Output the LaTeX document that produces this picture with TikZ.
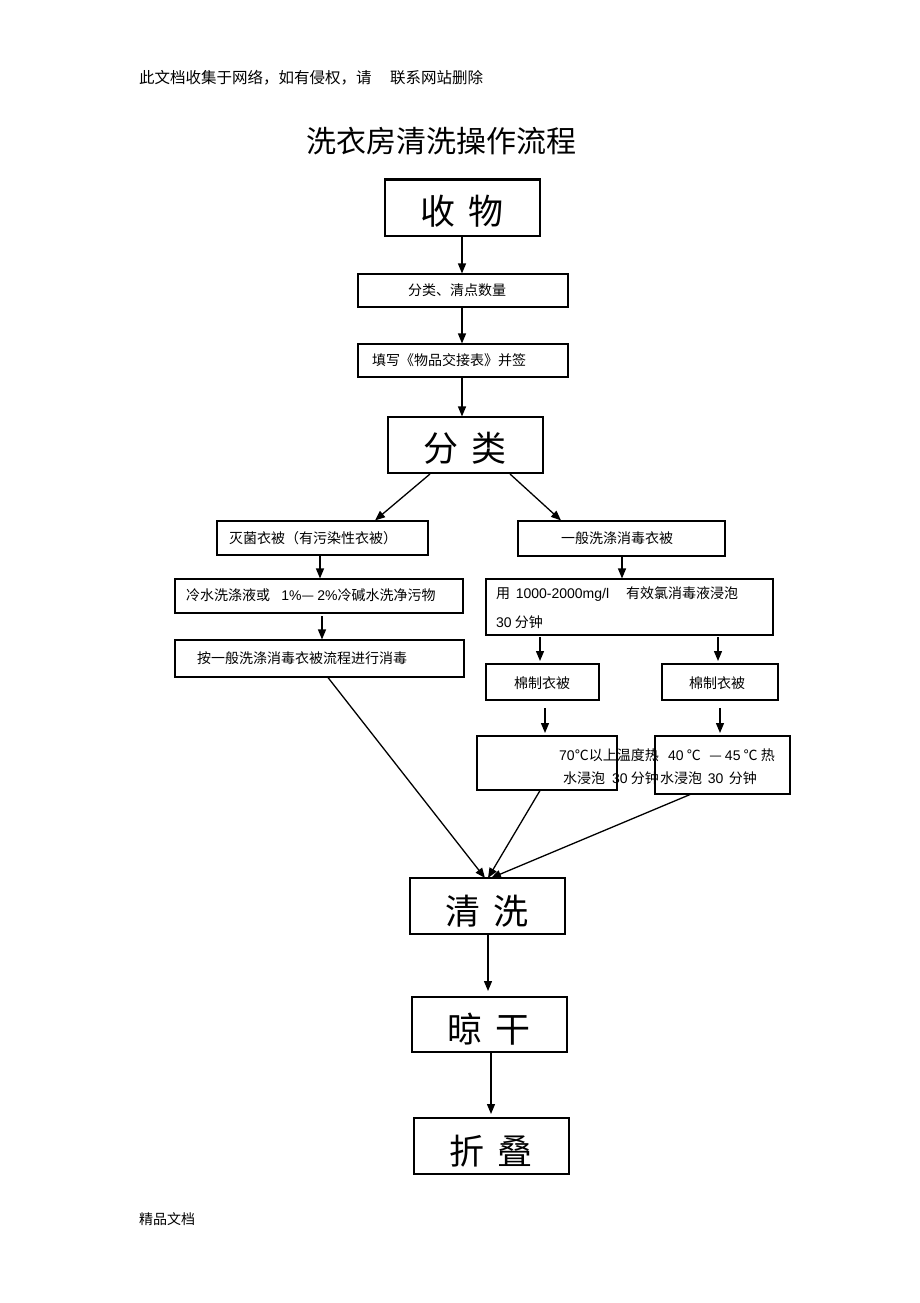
\documentclass[tikz,border=0pt]{standalone}
\usepackage{fontspec}
\setmainfont{Noto Sans CJK SC}
\newfontfamily\lat{Liberation Sans}
\usetikzlibrary{arrows.meta}
\begin{document}
\begin{tikzpicture}[x=1pt,y=-1pt,
  box/.style={draw=black,line width=1.1pt,inner sep=0pt,fill=none},
  txt/.style={inner sep=0pt,font=\fontsize{14}{15}\selectfont},
  txtw/.style={txt,anchor=west},
  big/.style={inner sep=0pt,font=\fontsize{35}{36}\selectfont},
  arr/.style={draw=black,line width=1.3pt,-{Triangle[length=10pt,width=8pt]}}]
\useasboundingbox[fill=white] (0,0) rectangle (920,1303);
% header / footer
\node[anchor=west,inner sep=0pt,font=\fontsize{15.5}{16}\selectfont] (hdr1) at (139,78) {此文档收集于网络，如有侵权，请};
\node[anchor=west,inner sep=0pt,font=\fontsize{15.5}{16}\selectfont] (hdr2) at (390,78) {联系网站删除};
\node[anchor=west,inner sep=0pt,font=\fontsize{30}{32}\selectfont] (title) at (306,141) {洗衣房清洗操作流程};
\node[anchor=west,inner sep=0pt,font=\fontsize{14}{15}\selectfont] (ftr) at (139,1219) {精品文档};
% boxes
\node[box,minimum width=155pt,minimum height=56pt] (shouwu) at (462.5,208) {};
\draw[line width=2pt] (shouwu.north west) -- (shouwu.north east);
\node[big] (shouwuT) at (462,211) {收\hspace{0.35em}物};
\node[box,minimum width=210pt,minimum height=33pt] (fenlei1) at (463,290.5) {};
\node[txt] (fenlei1T) at (457,290.5) {分类、清点数量};
\node[box,minimum width=210pt,minimum height=33pt] (tianxie) at (463,360.5) {};
\node[txtw] (tianxieT) at (372,360.5) {填写《物品交接表》并签};
\node[box,minimum width=155pt,minimum height=56pt] (fenlei) at (465.5,445) {};
\node[big] (fenleiT) at (465,448) {分\hspace{0.35em}类};
\node[box,minimum width=211pt,minimum height=34pt] (mianjun) at (322.5,538) {};
\node[txtw] (mianjunT) at (229,538) {灭菌衣被（有污染性衣被）};
\node[box,minimum width=207pt,minimum height=35pt] (yiban) at (621.5,538.5) {};
\node[txt] (yibanT) at (617,538.5) {一般洗涤消毒衣被};
\node[box,minimum width=288pt,minimum height=34pt] (lengshui) at (319,596) {};
\node[txtw] (lengshuiT) at (186,595) {冷水洗涤液或\hspace{0.8em}{\lat 1\%}— {\lat 2\%}冷碱水洗净污物};
\node[box,minimum width=289pt,minimum height=37pt] (anyiban) at (319.5,658.5) {};
\node[txtw] (anyibanT) at (197,658) {按一般洗涤消毒衣被流程进行消毒};
\node[box,minimum width=287pt,minimum height=56pt] (yong) at (629.5,607) {};
\node[txtw] (yongT1) at (496,594) {用\hspace{0.4em}{\lat 1000-2000mg/l}\hspace{1.2em}有效氯消毒液浸泡};
\node[txtw] (yongT2) at (496,622) {{\lat 30} 分钟};
\node[box,minimum width=113pt,minimum height=36pt] (mianL) at (542.5,682) {};
\node[txt] (mianLT) at (542,683) {棉制衣被};
\node[box,minimum width=116pt,minimum height=36pt] (mianR) at (720,682) {};
\node[txt] (mianRT) at (717,683) {棉制衣被};
\node[box,minimum width=140pt,minimum height=54pt] (hot70) at (547,763) {};
\node[box,minimum width=135pt,minimum height=58pt] (hot40) at (722.5,765) {};
\node[txtw] (hot70T1) at (559,755) {{\lat 70}℃以上温度热};
\node[txtw] (hot70T2) at (563,778) {水浸泡\hspace{0.5em}{\lat 30} 分钟};
\node[txtw] (hot40T1) at (668,755) {{\lat 40} ℃\hspace{0.6em}— {\lat 45} ℃ 热};
\node[txtw] (hot40T2) at (660,778) {水浸泡\hspace{0.4em}{\lat 30}\hspace{0.4em}分钟};
\node[box,minimum width=155pt,minimum height=56pt] (qingxi) at (487.5,906) {};
\node[big] (qingxiT) at (487,911) {清\hspace{0.35em}洗};
\node[box,minimum width=155pt,minimum height=55pt] (liang) at (489.5,1024.5) {};
\node[big] (liangT) at (489,1029) {晾\hspace{0.35em}干};
\node[box,minimum width=155pt,minimum height=56pt] (zhedie) at (491.5,1146) {};
\node[big] (zhedieT) at (491,1151) {折\hspace{0.35em}叠};
% connectors
\draw[arr] (shouwu.south -| 462,0) -- (fenlei1.north -| 462,0);
\draw[arr] (fenlei1.south -| 462,0) -- (tianxie.north -| 462,0);
\draw[arr] (tianxie.south -| 462,0) -- (fenlei.north -| 462,0);
\draw[arr] (430,474) -- (mianjun.north -| 375,0);
\draw[arr] (510,474) -- (yiban.north -| 561,0);
\draw[arr] (mianjun.south -| 320,0) -- (lengshui.north -| 320,0);
\draw[arr] (322,616) -- (anyiban.north -| 322,0);
\draw[arr] (yiban.south -| 622,0) -- (yong.north -| 622,0);
\draw[arr] (540,637) -- (540,661);
\draw[arr] (718,637) -- (718,661);
\draw[arr] (545,708) -- (545,733);
\draw[arr] (720,708) -- (720,733);
\draw[arr] (anyiban.south -| 328,0) -- (485,878);
\draw[arr] (hot70.south -| 540,0) -- (488,878);
\draw[arr] (hot40.south -| 690,0) -- (491,878);
\draw[arr] (qingxi.south -| 488,0) -- (488,991);
\draw[arr] (liang.south -| 491,0) -- (491,1114);
\end{tikzpicture}
\end{document}
